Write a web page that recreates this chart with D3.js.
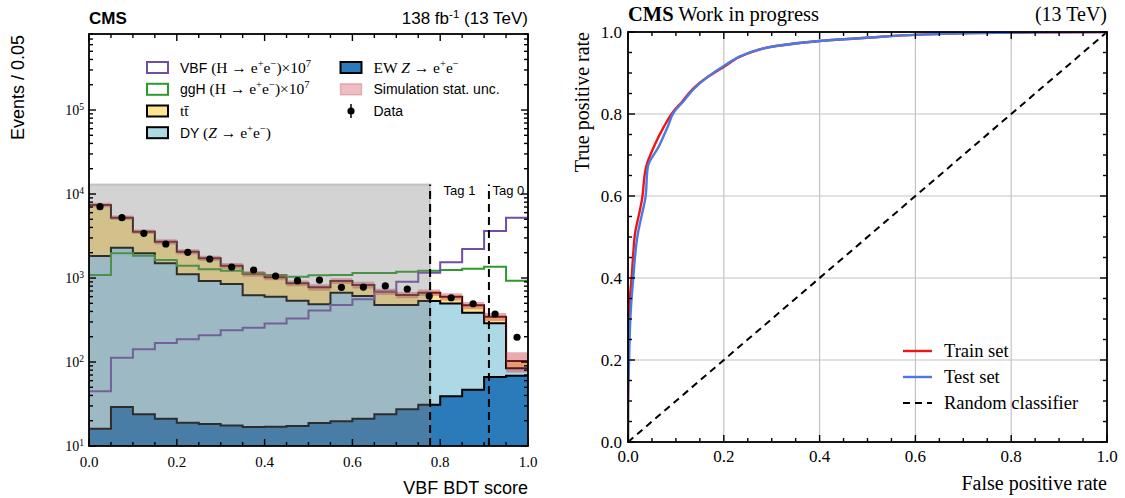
<!DOCTYPE html>
<html>
<head>
<meta charset="utf-8">
<script src="https://cdn.jsdelivr.net/npm/d3@7"></script>
<style>
  body { margin: 0; background: #fff; }
  svg { display: block; }
</style>
</head>
<body>
<svg id="chart" width="1125" height="498"></svg>
<script>
// ---------- VBF BDT score distribution (20 bins of width 0.05) ----------
const binEdges = d3.range(0, 21).map(i => +(i * 0.05).toFixed(2));
const ewZ      = [16.1, 29.1, 23.8, 21.1, 18.9, 18.3, 17.6, 16.8, 17.0, 17.3, 18.8, 19.7, 21.1, 23.8, 27.4, 31.0, 39.1, 46.8, 66.2, 68.7];
const dyZ      = [1812, 2267, 1944, 1475, 1088, 903, 831, 605, 582, 520, 467, 649, 590, 453, 450, 501, 458, 339, 223, 15.3];
const ttbar    = [5572, 2934, 1592, 1204, 948, 796, 551, 503, 420, 328, 289, 252, 215, 210, 151, 137, 102, 87, 57, 19];
const simUnc   = [450, 310, 210, 190, 145, 120, 110, 90, 80, 70, 70, 75, 75, 60, 55, 60, 60, 47, 38, 28];
const dataCounts = [7060, 5230, 3400, 2540, 2020, 1683, 1352, 1245, 1057, 929, 946, 775, 781, 804, 740, 611, 582, 494, 373, 197];
const vbfScaled = [44.8, 112, 142, 168, 186, 208, 238, 255, 288, 330, 410, 477, 557, 687, 904, 1156, 1538, 2213, 3630, 5230];
const ggHScaled = [1087, 1968, 1841, 1637, 1400, 1270, 1222, 1137, 1087, 1036, 1077, 1087, 1148, 1148, 1189, 1222, 1245, 1291, 1364, 929];
const tagCuts   = [0.777, 0.911];
const tagLabels = ["Tag 1", "Tag 0"];
const blindedRange = [0, 0.777];
const blindedTop = 1.3e4;
const eventsTicks = [10, 100, 1000, 1e4, 1e5];
const eventsTickExp = ["1", "2", "3", "4", "5"];
const scoreTicks = [0, 0.2, 0.4, 0.6, 0.8, 1.0];

// ---------- ROC curves ----------
const trainFPR = [0, 0, 0.0015, 0.0038, 0.0075, 0.011, 0.015, 0.022, 0.029, 0.038, 0.054, 0.075, 0.094, 0.113, 0.136, 0.166, 0.2, 0.249, 0.309, 0.4, 0.498, 0.6, 0.725, 0.85, 1.0];
const trainTPR = [0, 0.073, 0.268, 0.35, 0.4, 0.46, 0.511, 0.55, 0.59, 0.672, 0.72, 0.769, 0.805, 0.83, 0.862, 0.89, 0.915, 0.947, 0.966, 0.978, 0.986, 0.993, 0.9976, 0.999, 1.0];
const testFPR  = [0, 0, 0.0023, 0.0053, 0.011, 0.021, 0.029, 0.036, 0.0415, 0.064, 0.083, 0.096, 0.115, 0.138, 0.166, 0.2, 0.249, 0.309, 0.4, 0.498, 0.6, 0.725, 0.85, 1.0];
const testTPR  = [0, 0.1, 0.2, 0.31, 0.4, 0.511, 0.555, 0.593, 0.672, 0.72, 0.769, 0.805, 0.83, 0.862, 0.89, 0.917, 0.948, 0.966, 0.978, 0.986, 0.993, 0.9976, 0.999, 1.0];
const rateTicks = [0, 0.2, 0.4, 0.6, 0.8, 1.0];

const SANS = "'Liberation Sans', Arial, sans-serif";
const SERIF = "'Liberation Serif', 'DejaVu Serif', serif";

const svg = d3.select("#chart");

// Inward ticks on all four sides of a frame
function drawTicks(g, x, y, xMajor, xMinor, yMajor, yMinor) {
  const [x0, x1] = x.range(), [y0, y1] = y.range();
  const addX = (list, len) => {
    list.forEach(v => {
      const px = x(v);
      g.append("line").attr("x1", px).attr("x2", px).attr("y1", y0).attr("y2", y0 - len);
      g.append("line").attr("x1", px).attr("x2", px).attr("y1", y1).attr("y2", y1 + len);
    });
  };
  const addY = (list, len) => {
    list.forEach(v => {
      const py = y(v);
      g.append("line").attr("x1", x0).attr("x2", x0 + len).attr("y1", py).attr("y2", py);
      g.append("line").attr("x1", x1).attr("x2", x1 - len).attr("y1", py).attr("y2", py);
    });
  };
  addX(xMajor, 7);
  addX(xMinor, 4);
  addY(yMajor, 7);
  addY(yMinor, 4);
  g.attr("stroke", "#000").attr("stroke-width", 1.4);
}

// Mixed-font label with superscripts; serif parts may use their own size
function richText(sel, parts, size, serifSize) {
  const ss = serifSize || size;
  parts.forEach(p => {
    const base = p.f === "sans" ? size : ss;
    const t = sel.append("tspan").text(p.t)
      .attr("font-family", p.f === "sans" ? SANS : SERIF);
    if (p.i) t.attr("font-style", "italic");
    if (p.b) t.attr("font-weight", "bold");
    if (p.sup) {
      t.attr("font-size", base * 0.68).attr("dy", -base * 0.38);
    } else {
      t.attr("font-size", base);
    }
    if (p.after) t.attr("dy", base * 0.38);
  });
  return sel;
}
function parts(list) {
  // mark the part following a superscript so the baseline returns
  const out = list.map(p => Object.assign({}, p));
  for (let i = 1; i < out.length; i++) {
    if (out[i - 1].sup && !out[i].sup) out[i].after = true;
  }
  return out;
}

// =================== Left panel ===================
const xL = d3.scaleLinear().domain([0, 1]).range([89, 528]);
const yL = d3.scaleLog().domain([10, Math.pow(10, 5.905)]).range([446, 34]);

const left = svg.append("g");
left.append("clipPath").attr("id", "clipL").append("rect")
  .attr("x", xL(0)).attr("y", yL.range()[1]).attr("width", xL(1) - xL(0)).attr("height", yL.range()[0] - yL.range()[1]);
const plotL = left.append("g").attr("clip-path", "url(#clipL)");

const floorV = yL.domain()[0];
const cumEW = ewZ.slice();
const cumDY = ewZ.map((v, i) => v + dyZ[i]);
const cumTot = cumDY.map((v, i) => v + ttbar[i]);

function stepPoints(lo, hi) {
  const pts = [];
  hi.forEach((v, i) => {
    const l = lo ? lo[i] : floorV;
    pts.push({ x: binEdges[i], lo: l, hi: v });
    pts.push({ x: binEdges[i + 1], lo: l, hi: v });
  });
  return pts;
}
const area = d3.area().x(d => xL(d.x)).y0(d => yL(Math.max(d.lo, floorV))).y1(d => yL(d.hi));
const line = d3.line().x(d => xL(d.x)).y(d => yL(d.hi));

// stacked fills
plotL.append("path").attr("d", area(stepPoints(null, cumEW))).attr("fill", "#2b7bba");
plotL.append("path").attr("d", area(stepPoints(cumEW, cumDY))).attr("fill", "#add8e6");
plotL.append("path").attr("d", area(stepPoints(cumDY, cumTot))).attr("fill", "#fde48f");

// stack outlines
[cumEW, cumDY].forEach(arr => {
  plotL.append("path").attr("d", line(stepPoints(null, arr)))
    .attr("fill", "none").attr("stroke", "#000").attr("stroke-width", 2);
});
plotL.append("path").attr("d", line(stepPoints(null, cumTot)))
  .attr("fill", "none").attr("stroke", "#2a0606").attr("stroke-width", 2);

// signal overlays (scaled by 1e7)
plotL.append("path").attr("d", line(stepPoints(null, ggHScaled)))
  .attr("fill", "none").attr("stroke", "#2e9a2e").attr("stroke-width", 2);
plotL.append("path").attr("d", line(stepPoints(null, vbfScaled)))
  .attr("fill", "none").attr("stroke", "#6f4ea6").attr("stroke-width", 2);

// simulation statistical uncertainty band
const UNC_FILL = "rgba(200,55,70,0.42)";
const uncPts = [];
cumTot.forEach((v, i) => {
  [binEdges[i], binEdges[i + 1]].forEach(xe => uncPts.push({ x: xe, lo: v - simUnc[i], hi: v + simUnc[i] }));
});
plotL.append("path").attr("d", area(uncPts)).attr("fill", UNC_FILL);

// blinded region
plotL.append("rect")
  .attr("x", xL(blindedRange[0])).attr("width", xL(blindedRange[1]) - xL(blindedRange[0]))
  .attr("y", yL(blindedTop)).attr("height", yL(floorV) - yL(blindedTop))
  .attr("fill", "rgba(128,128,128,0.35)")
  .attr("stroke", "rgba(128,128,128,0.35)").attr("stroke-width", 2);

// category boundaries
tagCuts.forEach(c => {
  plotL.append("line").attr("x1", xL(c)).attr("x2", xL(c)).attr("y1", yL(floorV)).attr("y2", yL(blindedTop))
    .attr("stroke", "#000").attr("stroke-width", 2).attr("stroke-dasharray", "8,5");
});
const tagBounds = [tagCuts[0], tagCuts[1], 1.0];
tagLabels.forEach((t, i) => {
  left.append("text").attr("x", (xL(tagBounds[i]) + xL(tagBounds[i + 1])) / 2).attr("y", 195)
    .attr("text-anchor", "middle").attr("font-family", SANS).attr("font-size", 13).text(t);
});

// data with Poisson errors
const centers = binEdges.slice(0, -1).map((e, i) => (e + binEdges[i + 1]) / 2);
dataCounts.forEach((n, i) => {
  const e = Math.sqrt(n);
  plotL.append("line").attr("x1", xL(centers[i])).attr("x2", xL(centers[i]))
    .attr("y1", yL(n - e)).attr("y2", yL(n + e)).attr("stroke", "#000").attr("stroke-width", 1.5);
  plotL.append("circle").attr("cx", xL(centers[i])).attr("cy", yL(n)).attr("r", 3.6).attr("fill", "#000");
});

// frame + ticks
left.append("rect").attr("x", xL(0)).attr("y", yL.range()[1]).attr("width", xL(1) - xL(0))
  .attr("height", yL.range()[0] - yL.range()[1]).attr("fill", "none").attr("stroke", "#000").attr("stroke-width", 1.8);
const logMinor = [];
for (let d = 10; d < 1e6; d *= 10) for (let k = 2; k <= 9; k++) { const v = d * k; if (v < yL.domain()[1]) logMinor.push(v); }
const scoreMinor = d3.range(0, 21).map(i => i * 0.05).filter(v => !scoreTicks.some(t => Math.abs(t - v) < 1e-9));
drawTicks(left.append("g"), xL, yL, scoreTicks, scoreMinor, eventsTicks, logMinor);

// tick labels
scoreTicks.forEach(v => {
  left.append("text").attr("x", xL(v)).attr("y", 467).attr("text-anchor", "middle")
    .attr("font-family", SERIF).attr("font-size", 15).text(v.toFixed(1));
});
eventsTicks.forEach((v, i) => {
  const t = left.append("text").attr("x", 84).attr("y", yL(v) + 5).attr("text-anchor", "end");
  richText(t, parts([{ t: "10", f: "serif" }, { t: eventsTickExp[i], f: "serif", sup: true }]), 14);
});

// axis titles and header
left.append("text").attr("x", 528).attr("y", 494).attr("text-anchor", "end")
  .attr("font-family", SANS).attr("font-size", 18).text("VBF BDT score");
left.append("text").attr("transform", "translate(24,35) rotate(-90)").attr("text-anchor", "end")
  .attr("font-family", SANS).attr("font-size", 18).text("Events / 0.05");
left.append("text").attr("x", 89).attr("y", 24).attr("font-family", SANS).attr("font-size", 17)
  .attr("font-weight", "bold").text("CMS");
richText(left.append("text").attr("x", 528).attr("y", 24).attr("text-anchor", "end"),
  parts([{ t: "138 fb", f: "sans" }, { t: "-1", f: "sans", sup: true }, { t: " (13 TeV)", f: "sans" }]), 17);

// legend
const legendLeft = [
  { kind: "outline", color: "#6f4ea6",
    label: [{ t: "VBF ", f: "sans" }, { t: "(H → e", f: "serif" }, { t: "+", f: "serif", sup: true }, { t: "e", f: "serif" }, { t: "−", f: "serif", sup: true }, { t: ")×10", f: "serif" }, { t: "7", f: "serif", sup: true }] },
  { kind: "outline", color: "#2e9a2e",
    label: [{ t: "ggH ", f: "sans" }, { t: "(H → e", f: "serif" }, { t: "+", f: "serif", sup: true }, { t: "e", f: "serif" }, { t: "−", f: "serif", sup: true }, { t: ")×10", f: "serif" }, { t: "7", f: "serif", sup: true }] },
  { kind: "fill", color: "#fde48f", label: [{ t: "tt\u0304", f: "serif" }] },
  { kind: "fill", color: "#add8e6",
    label: [{ t: "DY ", f: "sans" }, { t: "(", f: "serif" }, { t: "Z", f: "serif", i: true }, { t: " → e", f: "serif" }, { t: "+", f: "serif", sup: true }, { t: "e", f: "serif" }, { t: "−", f: "serif", sup: true }, { t: ")", f: "serif" }] },
  { kind: "fill", color: "#2b7bba",
    label: [{ t: "EW ", f: "serif" }, { t: "Z", f: "serif", i: true }, { t: " → e", f: "serif" }, { t: "+", f: "serif", sup: true }, { t: "e", f: "serif" }, { t: "−", f: "serif", sup: true }] },
  { kind: "unc", color: UNC_FILL, label: [{ t: "Simulation stat. unc.", f: "sans" }] },
  { kind: "data", color: "#000", label: [{ t: "Data", f: "sans" }] }
];
const legRowY = [67.5, 89.3, 111, 132.7];
legendLeft.forEach((e, i) => {
  const col = i < 4 ? 0 : 1;
  const row = i < 4 ? i : i - 4;
  const bx = col === 0 ? 147 : 340.5;
  const cy = legRowY[row];
  const g = left.append("g");
  if (e.kind === "outline") {
    g.append("rect").attr("x", bx).attr("y", cy - 5.5).attr("width", 21).attr("height", 11)
      .attr("fill", "none").attr("stroke", e.color).attr("stroke-width", 2);
  } else if (e.kind === "fill") {
    g.append("rect").attr("x", bx).attr("y", cy - 5.5).attr("width", 21).attr("height", 11)
      .attr("fill", e.color).attr("stroke", "#000").attr("stroke-width", 2);
  } else if (e.kind === "unc") {
    g.append("rect").attr("x", bx).attr("y", cy - 5.5).attr("width", 21).attr("height", 11)
      .attr("fill", "rgba(200,55,70,0.32)").attr("stroke", "rgba(200,55,70,0.3)").attr("stroke-width", 1.5);
  } else {
    g.append("line").attr("x1", bx + 10.5).attr("x2", bx + 10.5).attr("y1", cy - 7).attr("y2", cy + 7)
      .attr("stroke", "#000").attr("stroke-width", 1.5);
    g.append("circle").attr("cx", bx + 10.5).attr("cy", cy).attr("r", 3.6).attr("fill", "#000");
  }
  richText(g.append("text").attr("x", bx + 33).attr("y", cy + 5), parts(e.label), 14, 15.5);
});

// =================== Right panel ===================
const xR = d3.scaleLinear().domain([0, 1]).range([628, 1107]);
const yR = d3.scaleLinear().domain([0, 1]).range([442, 32]);
const right = svg.append("g");
right.append("clipPath").attr("id", "clipR").append("rect")
  .attr("x", xR(0)).attr("y", yR(1)).attr("width", xR(1) - xR(0)).attr("height", yR(0) - yR(1));

// grid
rateTicks.forEach(v => {
  right.append("line").attr("x1", xR(v)).attr("x2", xR(v)).attr("y1", yR(0)).attr("y2", yR(1))
    .attr("stroke", "#c4c4c4").attr("stroke-width", 1.2);
  right.append("line").attr("x1", xR(0)).attr("x2", xR(1)).attr("y1", yR(v)).attr("y2", yR(v))
    .attr("stroke", "#c4c4c4").attr("stroke-width", 1.2);
});

const plotR = right.append("g").attr("clip-path", "url(#clipR)");
const diagLine = d3.line().x(d => xR(d[0])).y(d => yR(d[1]));
// ROC curves: TPR rises monotonically, so smooth along y
const rocLine = d3.line().x(d => xR(d[0])).y(d => yR(d[1])).curve(d3.curveMonotoneY);
plotR.append("path").attr("d", diagLine([[0, 0], [1, 1]]))
  .attr("fill", "none").attr("stroke", "#000").attr("stroke-width", 2).attr("stroke-dasharray", "7,5");
plotR.append("path").attr("d", rocLine(trainFPR.map((v, i) => [v, trainTPR[i]])))
  .attr("fill", "none").attr("stroke", "#f01414").attr("stroke-width", 2.4);
plotR.append("path").attr("d", rocLine(testFPR.map((v, i) => [v, testTPR[i]])))
  .attr("fill", "none").attr("stroke", "#4a7ae6").attr("stroke-width", 2.4);

right.append("rect").attr("x", xR(0)).attr("y", yR(1)).attr("width", xR(1) - xR(0))
  .attr("height", yR(0) - yR(1)).attr("fill", "none").attr("stroke", "#000").attr("stroke-width", 1.8);
const rateMinor = d3.range(0, 21).map(i => i * 0.05).filter(v => !rateTicks.some(t => Math.abs(t - v) < 1e-9));
drawTicks(right.append("g"), xR, yR, rateTicks, rateMinor, rateTicks, rateMinor);

rateTicks.forEach(v => {
  right.append("text").attr("x", xR(v)).attr("y", 462).attr("text-anchor", "middle")
    .attr("font-family", SERIF).attr("font-size", 17).text(v.toFixed(1));
  right.append("text").attr("x", 622).attr("y", yR(v) + 6).attr("text-anchor", "end")
    .attr("font-family", SERIF).attr("font-size", 17).text(v.toFixed(1));
});

right.append("text").attr("x", 1107).attr("y", 490).attr("text-anchor", "end")
  .attr("font-family", SERIF).attr("font-size", 20).text("False positive rate");
right.append("text").attr("transform", "translate(589,32) rotate(-90)").attr("text-anchor", "end")
  .attr("font-family", SERIF).attr("font-size", 20).text("True positive rate");
richText(right.append("text").attr("x", 628).attr("y", 21),
  [{ t: "CMS", f: "serif", b: true }, { t: " Work in progress", f: "serif" }], 20.5);
right.append("text").attr("x", 1107).attr("y", 21).attr("text-anchor", "end")
  .attr("font-family", SERIF).attr("font-size", 20).text("(13 TeV)");

// ROC legend
const rocLegend = [
  { label: "Train set", color: "#f01414", dash: null },
  { label: "Test set", color: "#4a7ae6", dash: null },
  { label: "Random classifier", color: "#000", dash: "7,5" }
];
const rocRowY = [351, 377, 403];
rocLegend.forEach((e, i) => {
  const l = right.append("line").attr("x1", 903).attr("x2", 932).attr("y1", rocRowY[i]).attr("y2", rocRowY[i])
    .attr("stroke", e.color).attr("stroke-width", 2.4);
  if (e.dash) l.attr("stroke-dasharray", e.dash).attr("stroke-width", 2);
  right.append("text").attr("x", 944).attr("y", rocRowY[i] + 6).attr("font-family", SERIF)
    .attr("font-size", 18.5).text(e.label);
});
</script>
</body>
</html>
